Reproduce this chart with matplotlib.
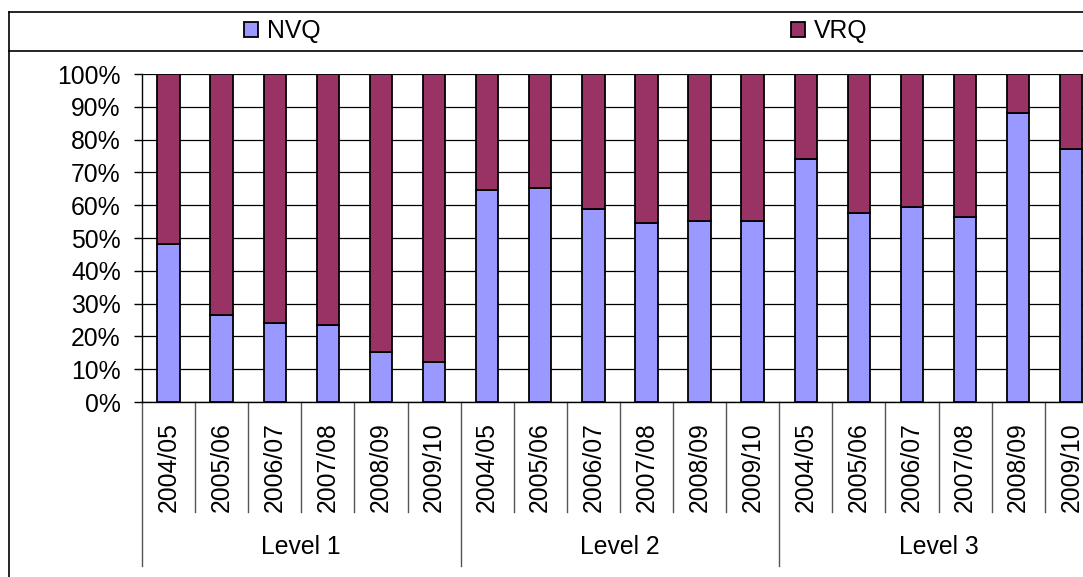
import matplotlib
matplotlib.use("Agg")
import matplotlib.pyplot as plt
from matplotlib.lines import Line2D
from matplotlib.ticker import PercentFormatter
import numpy as np

plt.rcParams['font.family'] = ['Liberation Sans', 'DejaVu Sans']
plt.rcParams['font.size'] = 17.8

# ── data ─────────────────────────────────────────────────────────────────────
years = ["2004/05", "2005/06", "2006/07", "2007/08", "2008/09", "2009/10"]
levels = ["Level 1", "Level 2", "Level 3"]

nvq_level1 = [48.2, 26.4, 24.0, 23.4, 15.2, 12.2]
nvq_level2 = [64.7, 65.2, 58.8, 54.7, 55.2, 55.2]
nvq_level3 = [74.1, 57.5, 59.3, 56.4, 88.2, 77.0]

nvq = np.array(nvq_level1 + nvq_level2 + nvq_level3) / 100.0
vrq = 1.0 - nvq
labels = years * len(levels)

NVQ_COLOR = "#9999FF"
VRQ_COLOR = "#993366"

W, H = 1083, 577
fig = plt.figure(figsize=(W / 100, H / 100), dpi=100)

# plot area in pixels: x 142..1083, y 74..402
ax = fig.add_axes([142 / W, 1 - 402 / H, (W - 142) / W, (402 - 74) / H])

x = np.arange(len(nvq))
bw = 0.42
b1 = ax.bar(x, nvq, bw, color=NVQ_COLOR, edgecolor="black", linewidth=1.3,
            label="NVQ", zorder=3)
b2 = ax.bar(x, vrq, bw, bottom=nvq, color=VRQ_COLOR, edgecolor="black",
            linewidth=1.3, label="VRQ", zorder=3)

cat_w = 53.1
ax.set_xlim(-0.5, -0.5 + (W - 142) / cat_w)
ax.set_ylim(0, 1)

ax.set_yticks(np.arange(0, 1.01, 0.1))
ax.yaxis.set_major_formatter(PercentFormatter(1.0, decimals=0))
ax.tick_params(axis="y", direction="out", length=5.8, width=1, pad=9.5,
               color="black")
ax.yaxis.grid(True, color="black", linewidth=0.9, zorder=0)
ax.set_axisbelow(True)

ax.set_xticks(x)
ax.set_xticklabels(labels, rotation=90)
ax.tick_params(axis="x", length=0, pad=14.5)

for s in ["top", "right"]:
    ax.spines[s].set_visible(False)
ax.spines["left"].set_linewidth(1)
ax.spines["bottom"].set_linewidth(1)

# category separators below the axis
trans = ax.get_xaxis_transform()
ax_h = 402 - 74
short_end = -(512 - 402) / ax_h
long_end = -(566 - 402) / ax_h
n_per = len(years)
for k in range(len(nvq) + 1):
    y_end = long_end if k % n_per == 0 else short_end
    ax.plot([k - 0.5, k - 0.5], [0, y_end], transform=trans, color="#555555",
            linewidth=1, clip_on=False)

# group labels
for g, name in enumerate(levels):
    cx = g * n_per + (n_per - 1) / 2
    ax.text(cx, -(547 - 402) / ax_h, name, transform=trans, ha="center",
            va="center")

# outer chart frame (clipped on right and bottom) and legend band
fig.add_artist(Line2D([9 / W, 1], [1 - 12 / H, 1 - 12 / H], color="black",
                      linewidth=1.2))
fig.add_artist(Line2D([9 / W, 1], [1 - 51 / H, 1 - 51 / H], color="black",
                      linewidth=1.2))
fig.add_artist(Line2D([9 / W, 9 / W], [1 - 12 / H, 0], color="black",
                      linewidth=1.2))

em = 17.8 * 100 / 72
fig.legend(handles=[b1, b2], labels=["NVQ", "VRQ"], ncol=2, loc="center",
           bbox_to_anchor=((245 + 866) / 2 / W, 1 - 31 / H), frameon=False,
           handlelength=14 / em, handleheight=14 / em, handletextpad=9 / em,
           columnspacing=470 / em, borderpad=0, borderaxespad=0)

fig.savefig("out.png", dpi=100)
